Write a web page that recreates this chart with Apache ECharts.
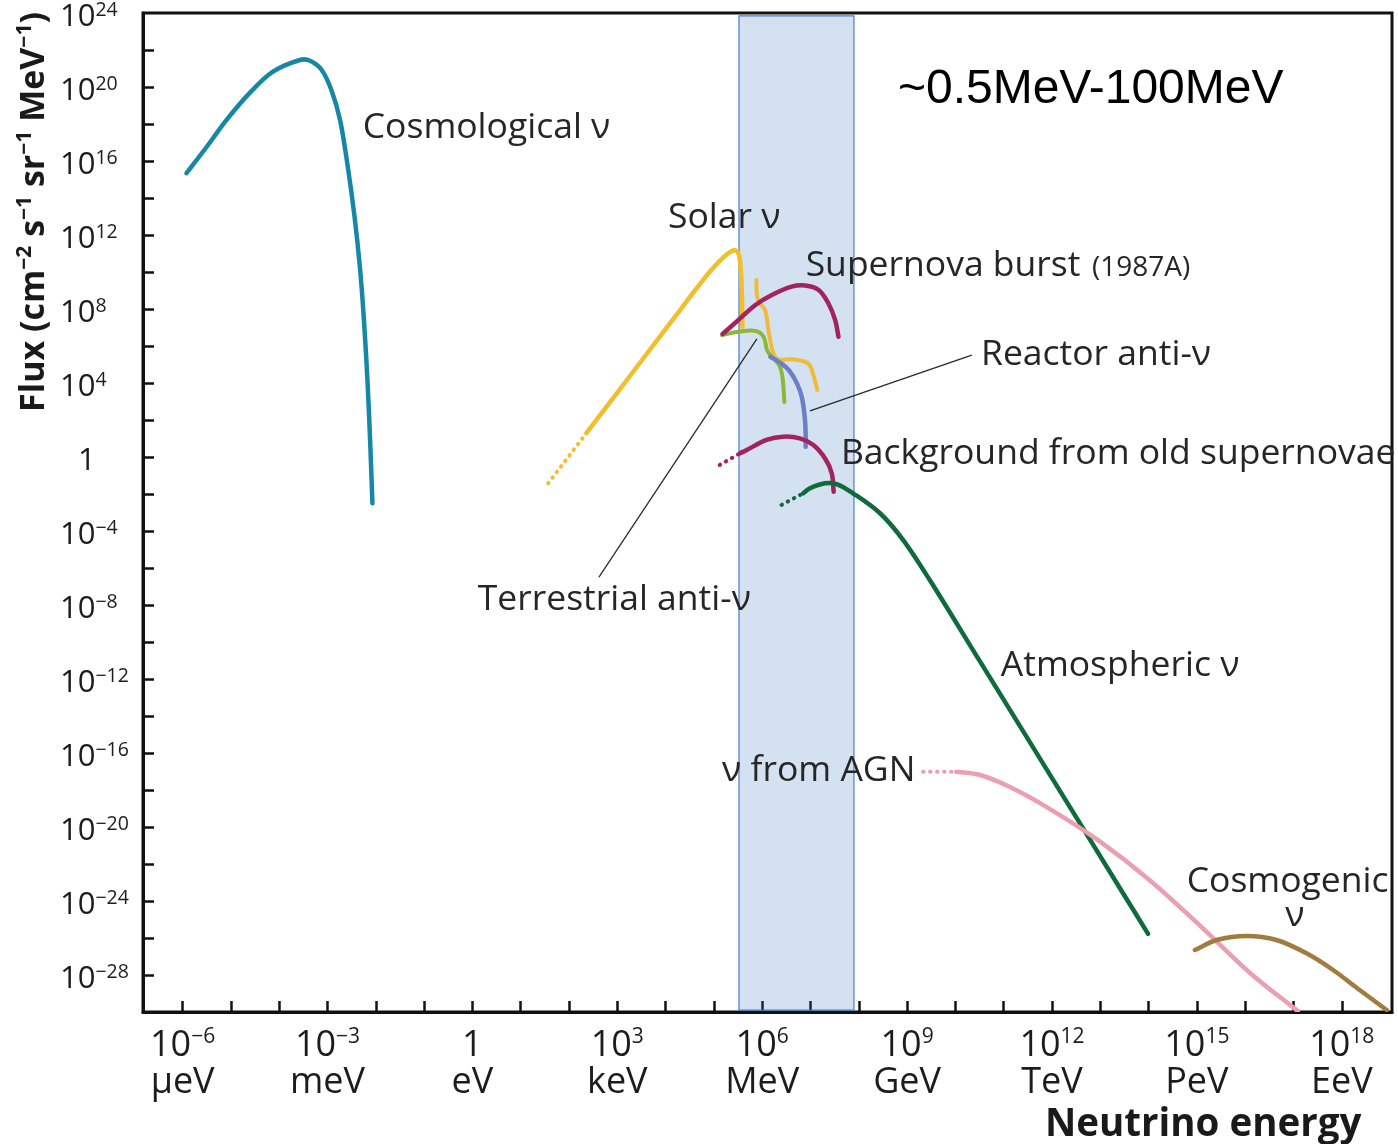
<!DOCTYPE html>
<html>
<head>
<meta charset="utf-8">
<title>Neutrino flux spectrum</title>
<script src="https://cdn.jsdelivr.net/npm/echarts@6/dist/echarts.min.js"></script>
<style>
  html, body { margin: 0; padding: 0; background: #ffffff; }
  #chart { width: 1398px; height: 1144px; }
</style>
</head>
<body>
<div id="chart"></div>
<script>
// Every point is [log10(E / eV), log10(flux / (cm^-2 s^-1 sr^-1 MeV^-1))]

// Axis ticks and labels (decades)
const xTickLogs = [-6, -5, -4, -3, -2, -1, 0, 1, 2, 3, 4, 5, 6, 7, 8, 9, 10, 11, 12, 13, 14, 15, 16, 17, 18];
const xLabelLogs = [-6, -3, 0, 3, 6, 9, 12, 15, 18];
const xUnitNames = ['μeV', 'meV', 'eV', 'keV', 'MeV', 'GeV', 'TeV', 'PeV', 'EeV'];
const yTickLogs = [-28, -26, -24, -22, -20, -18, -16, -14, -12, -10, -8, -6, -4, -2, 0, 2, 4, 6, 8, 10, 12, 14, 16, 18, 20, 22];
const yLabelLogs = [24, 20, 16, 12, 8, 4, 0, -4, -8, -12, -16, -20, -24, -28];

// Energy window highlighted in blue (log10 eV)
const windowLogE = [5.52, 7.9];

// Relic (cosmological) neutrinos
const cosmologicalNu = [
  [-5.92, 15.34], [-5.50, 16.77], [-5.09, 18.22], [-4.61, 19.68], [-4.13, 20.83],
  [-3.57, 21.46], [-3.36, 21.42], [-3.12, 20.92], [-2.92, 19.84], [-2.74, 18.22],
  [-2.58, 15.69], [-2.44, 12.99], [-2.33, 10.29], [-2.25, 7.58], [-2.17, 4.00],
  [-2.11, 0.38], [-2.07, -2.50]
];

// Solar neutrinos: low-energy extrapolation, pp continuum, 7Be line + 8B continuum
const solarPpFaint = [[1.57, -1.42], [2.36, 1.29]];
const solarPp = [
  [2.36, 1.29], [3.00, 3.48], [3.60, 5.54], [4.20, 7.60], [4.64, 9.11],
  [4.95, 10.12], [5.20, 10.80], [5.36, 11.12], [5.46, 11.15], [5.52, 10.90],
  [5.56, 10.00], [5.58, 8.80], [5.59, 7.04]
];
const solarHigh = [
  [5.88, 9.57], [5.89, 8.76], [5.95, 8.31], [6.06, 7.95], [6.14, 6.69], [6.23, 5.61],
  [6.33, 5.28], [6.64, 5.28], [6.95, 5.06], [7.07, 4.34], [7.14, 3.62]
];

// Supernova burst (1987A)
const supernovaBurst = [
  [5.18, 6.65], [5.51, 7.41], [5.86, 8.22], [6.20, 8.76], [6.61, 9.21],
  [6.89, 9.27], [7.17, 9.03], [7.37, 8.31], [7.51, 7.41], [7.58, 6.50]
];

// Terrestrial (geo) anti-neutrinos
const terrestrialAnti = [
  [5.17, 6.59], [5.51, 6.77], [5.87, 6.81], [6.03, 6.49], [6.10, 5.78],
  [6.20, 5.41], [6.34, 5.03], [6.41, 4.49], [6.44, 3.78], [6.46, 2.97]
];

// Reactor anti-neutrinos
const reactorAnti = [
  [6.17, 5.42], [6.34, 5.15], [6.55, 4.70], [6.72, 3.98], [6.82, 3.24],
  [6.88, 2.18], [6.90, 1.28], [6.90, 0.56]
];

// Diffuse background from old supernovae
const oldSupernovaFaint = [[5.12, -0.43], [5.54, 0.20]];
const oldSupernova = [
  [5.54, 0.20], [5.68, 0.38], [6.09, 0.92], [6.43, 1.10], [6.78, 1.01],
  [7.06, 0.65], [7.30, -0.07], [7.44, -0.88], [7.48, -1.88]
];

// Atmospheric neutrinos
const atmosphericFaint = [[6.40, -2.59], [6.85, -1.96]];
const atmospheric = [
  [6.85, -1.96], [6.99, -1.69], [7.30, -1.42], [7.54, -1.46], [7.88, -1.96],
  [8.44, -3.04], [8.92, -4.49], [9.47, -6.65], [10.50, -11.01], [11.50, -15.24],
  [12.50, -19.47], [13.50, -23.70], [13.99, -25.78]
];

// Neutrinos from active galactic nuclei
const agnFaint = [[9.33, -17.01], [10.02, -17.01]];
const agn = [
  [10.02, -17.01], [10.51, -17.19], [11.13, -17.84], [11.96, -19.03], [12.99, -20.78],
  [14.03, -22.89], [15.06, -25.32], [16.10, -27.89], [17.09, -29.95]
];

// Cosmogenic (GZK) neutrinos
const cosmogenic = [
  [14.96, -26.65], [15.41, -26.11], [16.03, -25.89], [16.65, -26.11],
  [17.27, -26.83], [17.82, -27.73], [18.37, -28.81], [18.93, -29.89]
];

// Pointer lines from labels to curves
const terrestrialPointer = [[2.62, -6.49], [5.89, 6.38]];
const reactorPointer = [[6.99, 2.49], [10.34, 5.51]];

// Curve labels: text and anchor (left edge, vertical middle) in data space
const curveLabels = [
  { text: 'Cosmological ν', at: [-2.27, 17.78] },
  { text: 'Solar ν', at: [4.05, 12.92] },
  { text: 'Supernova burst', at: [6.90, 10.32] },
  { text: '(1987A)', at: [12.83, 10.22], small: true },
  { text: 'Reactor anti-ν', at: [10.53, 5.51] },
  { text: 'Background from old supernovae', at: [7.63, 0.16] },
  { text: 'Terrestrial anti-ν', at: [0.11, -7.73] },
  { text: 'Atmospheric ν', at: [10.94, -11.30] },
  { text: 'ν from AGN', at: [5.17, -16.97] },
  { text: 'Cosmogenic', at: [14.79, -22.97] },
  { text: 'ν', at: [17.03, -24.81], center: true }
];
const windowLabel = { text: '~0.5MeV-100MeV', at: [8.81, 19.84] };

const FONT = '"Open Sans", "Noto Sans", "DejaVu Sans", sans-serif';
const INK = '#1c1c1c';

function powerText(e) {
  if (e === 0) return '{b|1}';
  const s = e < 0 ? '−' + (-e) : String(e);
  return '{b|10}{s|' + s + '}';
}

function unit(dx, dy) {
  const l = Math.hypot(dx, dy) || 1;
  return [dx / l, dy / l];
}

// Smooth spectrum curve: one cubic path through the series points (in pixel space)
function curve(name, data, color, width) {
  return {
    name: name,
    type: 'custom',
    data: data,
    encode: { x: 0, y: 1 },
    clip: true,
    silent: true,
    z: 2,
    renderItem: function (params, api) {
      if (params.dataIndex !== 0) return null;
      const n = params.dataInsideLength;
      const p = [];
      for (let i = 0; i < n; i++) {
        p.push(api.coord([api.value(0, i), api.value(1, i)]));
      }
      // tangent directions (chord of neighbours)
      const dir = p.map(function (pt, i) {
        const a = p[Math.max(i - 1, 0)];
        const b = p[Math.min(i + 1, n - 1)];
        return unit(b[0] - a[0], b[1] - a[1]);
      });
      let d = 'M' + p[0][0].toFixed(2) + ' ' + p[0][1].toFixed(2);
      for (let i = 0; i < n - 1; i++) {
        const a = p[i], b = p[i + 1];
        const len = Math.hypot(b[0] - a[0], b[1] - a[1]) / 3;
        const c1 = [a[0] + dir[i][0] * len, a[1] + dir[i][1] * len];
        const c2 = [b[0] - dir[i + 1][0] * len, b[1] - dir[i + 1][1] * len];
        d += ' C' + c1[0].toFixed(2) + ' ' + c1[1].toFixed(2) + ' ' +
             c2[0].toFixed(2) + ' ' + c2[1].toFixed(2) + ' ' +
             b[0].toFixed(2) + ' ' + b[1].toFixed(2);
      }
      return {
        type: 'path',
        shape: { pathData: d },
        style: { fill: 'none', stroke: color, lineWidth: width, lineCap: 'round', lineJoin: 'round' }
      };
    }
  };
}

// Dotted extrapolation segment
function dots(name, data, color, width) {
  return {
    name: name, type: 'line', data: data, showSymbol: false, symbol: 'none',
    silent: true, z: 2,
    lineStyle: { color: color, width: width, type: [0.5, 6.5], cap: 'round' }
  };
}

const chart = echarts.init(document.getElementById('chart'), null, { renderer: 'canvas' });

const option = {
  animation: false,
  backgroundColor: '#ffffff',
  grid: {
    left: 143, right: 6, top: 13, bottom: 132,
    show: true, borderColor: '#111111', borderWidth: 3, backgroundColor: 'transparent'
  },
  xAxis: {
    type: 'value',
    min: -6.82,
    max: 19.04,
    axisLine: { show: true, onZero: false, lineStyle: { color: '#111111', width: 3 } },
    axisTick: {
      show: true, inside: true, length: 11, customValues: xTickLogs,
      lineStyle: { color: '#111111', width: 2.5 }
    },
    axisLabel: {
      customValues: xLabelLogs,
      margin: 15,
      color: INK,
      align: 'center',
      formatter: function (v) {
        return powerText(v) + '\n{u|' + xUnitNames[xLabelLogs.indexOf(v)] + '}';
      },
      rich: {
        b: { fontFamily: FONT, fontSize: 36, lineHeight: 37, color: INK },
        s: { fontFamily: FONT, fontSize: 21, lineHeight: 22, verticalAlign: 'top', color: INK },
        u: { fontFamily: FONT, fontSize: 36, lineHeight: 37, color: INK }
      }
    },
    splitLine: { show: false }
  },
  yAxis: {
    type: 'value',
    min: -30,
    max: 24,
    axisLine: { show: true, onZero: false, lineStyle: { color: '#111111', width: 3 } },
    axisTick: {
      show: true, inside: true, length: 11, customValues: yTickLogs,
      lineStyle: { color: '#111111', width: 2.5 }
    },
    axisLabel: {
      customValues: yLabelLogs,
      align: 'left',
      margin: 83,
      color: INK,
      padding: [8, 0, 0, 0],
      formatter: function (v) {
        return v === 0 ? '{one|1}' : powerText(v);
      },
      rich: {
        b: { fontFamily: FONT, fontSize: 31, lineHeight: 33, color: INK },
        s: { fontFamily: FONT, fontSize: 19.5, lineHeight: 21, verticalAlign: 'top', color: INK },
        one: { fontFamily: FONT, fontSize: 31, lineHeight: 33, color: INK, padding: [0, 0, 0, 18] }
      }
    },
    splitLine: { show: false }
  },
  series: [
    curve('Cosmological', cosmologicalNu, '#1787a8', 4.5),
    dots('Solar (low energy)', solarPpFaint, '#f2bf2c', 4),
    curve('Solar pp', solarPp, '#f2bf2c', 4.5),
    curve('Solar 7Be/8B', solarHigh, '#eebc3a', 4),
    curve('Terrestrial', terrestrialAnti, '#8cb83a', 4),
    curve('Supernova burst', supernovaBurst, '#a2245e', 4.5),
    curve('Reactor', reactorAnti, '#6c7fc6', 4.5),
    dots('Old supernovae (extrapolated)', oldSupernovaFaint, '#a2245e', 4),
    curve('Old supernovae', oldSupernova, '#a2245e', 4.5),
    dots('Atmospheric (extrapolated)', atmosphericFaint, '#0f6b3c', 4),
    curve('Atmospheric', atmospheric, '#0f6b3c', 4.5),
    dots('AGN (extrapolated)', agnFaint, '#eba0b2', 4),
    curve('AGN', agn, '#eba0b2', 4.5),
    curve('Cosmogenic', cosmogenic, '#a27c3e', 4.5),
    {
      name: 'Terrestrial pointer', type: 'line', data: terrestrialPointer, showSymbol: false,
      symbol: 'none', silent: true, z: 3, lineStyle: { color: '#2a2a2a', width: 1.3 }
    },
    {
      name: 'Reactor pointer', type: 'line', data: reactorPointer, showSymbol: false,
      symbol: 'none', silent: true, z: 3, lineStyle: { color: '#2a2a2a', width: 1.3 }
    },
    {
      name: 'Energy window', type: 'line', data: [], silent: true, z: 6,
      markArea: {
        silent: true,
        itemStyle: { color: 'rgba(60,120,190,0.22)', borderColor: '#4a7cc8', borderWidth: 1.2 },
        data: [[
          { xAxis: windowLogE[0], yAxis: -29.9 },
          { xAxis: windowLogE[1], yAxis: 23.85 }
        ]]
      }
    }
  ]
};

chart.setOption(option);

// Texts placed from data-space anchors
const graphics = curveLabels.map(function (lab) {
  const p = chart.convertToPixel({ gridIndex: 0 }, lab.at);
  return {
    type: 'text', x: p[0], y: p[1], z: 100, silent: true,
    style: {
      text: lab.text,
      fill: '#262626',
      fontFamily: FONT,
      fontSize: lab.small ? 28 : 35.5,
      align: lab.center ? 'center' : 'left',
      verticalAlign: 'middle'
    }
  };
});

const wp = chart.convertToPixel({ gridIndex: 0 }, windowLabel.at);
graphics.push({
  type: 'text', x: wp[0], y: wp[1], z: 100, silent: true,
  style: {
    text: windowLabel.text, fill: '#000000',
    fontFamily: '"Liberation Sans", Arial, sans-serif', fontSize: 48,
    align: 'left', verticalAlign: 'middle'
  }
});

// Axis titles
graphics.push({
  type: 'text', x: 34, y: 212, rotation: Math.PI / 2, z: 100, silent: true,
  style: {
    text: '{t|Flux (cm}{s|−2}{t| s}{s|−1}{t| sr}{s|−1}{t| MeV}{s|−1}{t|)}',
    align: 'center', verticalAlign: 'middle', fill: '#1a1a1a',
    rich: {
      t: { fontFamily: FONT, fontWeight: 'bold', fontSize: 34, lineHeight: 38, fill: '#1a1a1a' },
      s: { fontFamily: FONT, fontWeight: 'bold', fontSize: 21, lineHeight: 23, verticalAlign: 'top', fill: '#1a1a1a' }
    }
  }
});
graphics.push({
  type: 'text', x: 1045, y: 1125, z: 100, silent: true,
  style: {
    text: 'Neutrino energy', fill: '#1a1a1a',
    fontFamily: FONT, fontWeight: 'bold', fontSize: 38.5,
    align: 'left', verticalAlign: 'middle'
  }
});

chart.setOption({ graphic: graphics });
</script>
</body>
</html>
